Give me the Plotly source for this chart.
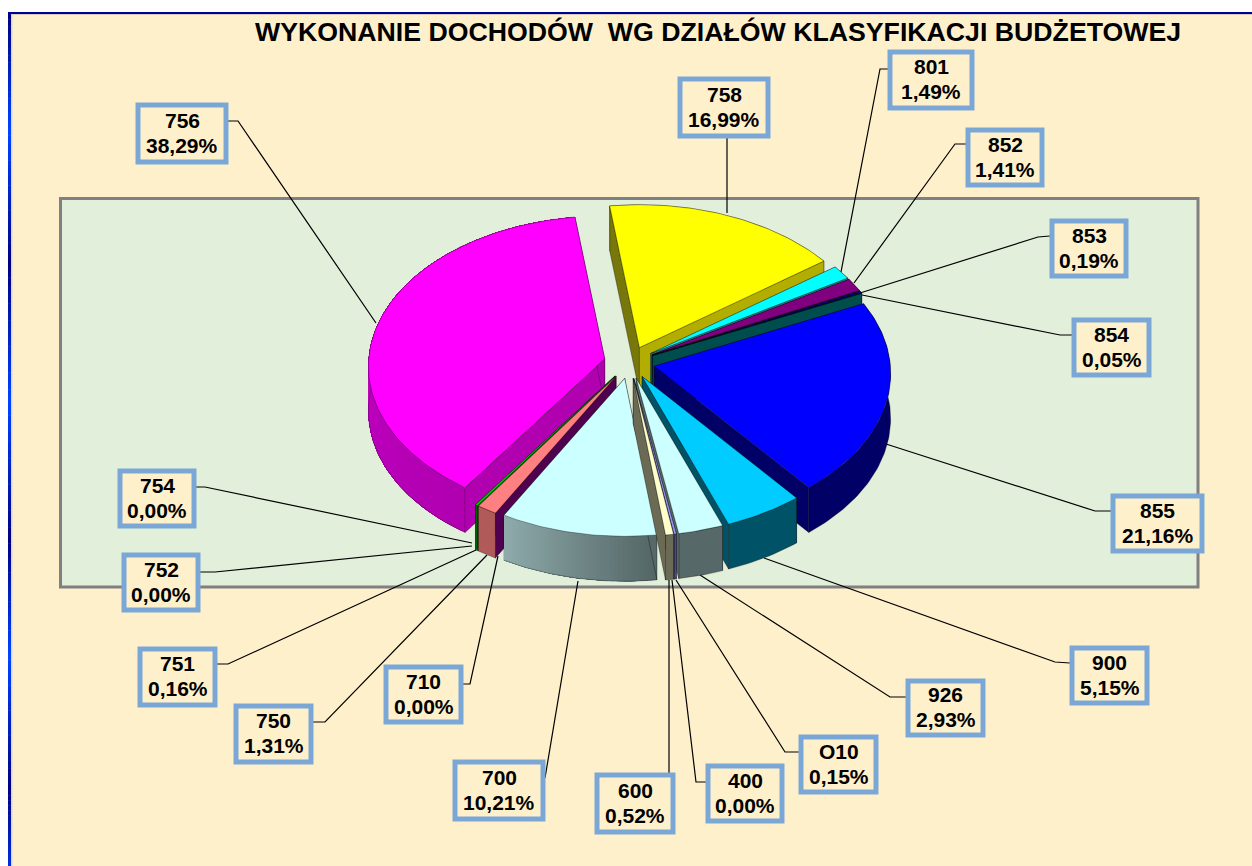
import numpy as np
import plotly.graph_objects as go

# ---- data ----
CATEGORIES = ["758", "801", "852", "853", "854", "855", "900", "926", "O10", "400",
              "600", "700", "710", "750", "751", "752", "754", "756"]
VALUES = [16.99, 1.49, 1.41, 0.19, 0.05, 21.16, 5.15, 2.93, 0.15, 0.00,
          0.52, 10.21, 0.00, 1.31, 0.16, 0.00, 0.00, 38.29]
TITLE = "WYKONANIE DOCHODÓW\u00a0\u00a0WG DZIAŁÓW KLASYFIKACJI BUDŻETOWEJ"

# ---- styles ----
TOP = ["#FFFF00", "#00FFFF", "#800080", "#000080", "#008080", "#0000FF", "#00CCFF", "#CCFFFF", "#9999FF", "#FFFFFF",
       "#FFFFCC", "#CCFFFF", "#660066", "#FF8080", "#00CC00", "#CCCCFF", "#00AA00", "#FF00FF"]
WALL_START = ["#77770A", "#2E8B8B", "#4D004D", "#00004D", "#004D4D", "#000066", "#005266", "#566868", "#4D4D80", "#666666",
              "#6B6B55", "#566868", "#4F004F", "#4F004F", "#006600", "#666666", "#006600", "#B000B0"]
WALL_END = ["#B3AD00", "#2E8B8B", "#4D004D", "#00004D", "#004D4D", "#000066", "#005266", "#566868", "#4D4D80", "#666666",
            "#6B6B55", "#566868", "#4F004F", "#B05A5A", "#006600", "#666666", "#006600", "#B000B0"]
RIM_A = ["#B3AD00", "#2E8B8B", "#4D004D", "#00004D", "#004D4D", "#000066", "#005266", "#566868", "#4D4D80", "#666666",
         "#6B6B55", "#546666", "#4F004F", "#B05A5A", "#006600", "#666666", "#006600", "#B000B0"]
RIM_B = ["#B3AD00", "#2E8B8B", "#4D004D", "#00004D", "#004D4D", "#000066", "#005266", "#566868", "#4D4D80", "#666666",
         "#6B6B55", "#8EAAAA", "#4F004F", "#B05A5A", "#006600", "#666666", "#006600", "#D400D4"]

# geometry of the tilted pie (pixels)
W, H = 1252, 866
CX, CY = 629.5, 362.5
RX, RY = 236, 150
DEPTH = 45
EXPLODE = 0.108
PERSP = 0.05
START_DEG = -7.6

BOX_C = "#7BA7D6"
CREAM = "#FFF0CC"

# label boxes: category -> (x0, x1, y0, y1)
BOXES = {
    "758": (680, 768, 79, 136), "801": (890, 972, 52, 108), "852": (968, 1042, 130, 185),
    "853": (1052, 1126, 221, 276), "854": (1074, 1149, 320, 375), "855": (1113, 1202, 496, 551),
    "900": (1072, 1147, 648, 703), "926": (908, 983, 681, 735), "O10": (801, 876, 737, 792),
    "400": (708, 782, 766, 821), "600": (597, 673, 775, 832), "700": (455, 543, 762, 819),
    "710": (386, 461, 667, 722), "750": (236, 311, 706, 762), "751": (140, 215, 649, 705),
    "752": (124, 198, 555, 610), "754": (120, 194, 471, 526), "756": (138, 226, 105, 162),
}
# leader lines: category -> polyline
LEADERS = {
    "756": [(228, 121), (238, 121), (376, 323)],
    "758": [(727, 138), (727, 213)],
    "801": [(888, 69), (880, 69), (841, 272)],
    "852": [(966, 144), (955, 144), (854, 283)],
    "853": [(1050, 236), (1038, 237), (860, 293)],
    "854": [(1072, 335), (1060, 335), (862, 295)],
    "855": [(1111, 511), (1095, 511), (886, 444)],
    "900": [(1070, 663), (1055, 662), (764, 558)],
    "926": [(906, 697), (890, 697), (700, 575)],
    "O10": [(799, 752), (785, 752), (676, 580)],
    "400": [(706, 782), (696, 782), (672, 580)],
    "600": [(669, 775), (669, 580)],
    "700": [(545, 778), (578, 581)],
    "710": [(463, 684), (470, 684), (498, 556)],
    "750": [(313, 722), (325, 722), (487, 555)],
    "751": [(217, 664), (228, 664), (476, 550)],
    "752": [(200, 572), (215, 572), (472, 546)],
    "754": [(196, 487), (205, 487), (472, 543)],
}


def project(theta, ox, oy):
    u, v = np.sin(theta), np.cos(theta)
    s = 1 / (1 + PERSP * v)
    return ox + RX * u * s, oy - RY * v * s


def mix(c1, c2, t):
    a = [int(c1[i:i + 2], 16) for i in (1, 3, 5)]
    b = [int(c2[i:i + 2], 16) for i in (1, 3, 5)]
    return "#%02X%02X%02X" % tuple(round(p + (q - p) * t) for p, q in zip(a, b))


def poly(xs, ys, fill, line="rgba(0,0,0,0.55)", lw=0.6):
    return go.Scatter(x=list(xs), y=list(ys), mode="lines", fill="toself", fillcolor=fill,
                      line=dict(color=line, width=lw), hoverinfo="skip", showlegend=False)


def rim_traces(i, ax, ay, n):
    # each shaded piece runs to the end of the arc, so no seams show
    if RIM_A[i] == RIM_B[i]:
        return [poly(list(ax) + list(ax[::-1]) + [ax[0]],
                     list(ay) + list(ay[::-1] + DEPTH) + [ay[0]], RIM_A[i])]
    out = []
    for k in range(n - 1):
        c = mix(RIM_A[i], RIM_B[i], k / max(1, n - 2))
        out.append(poly(list(ax[k:]) + list(ax[k:][::-1]) + [ax[k]],
                        list(ay[k:]) + list(ay[k:][::-1] + DEPTH) + [ay[k]], c, line=c, lw=0))
    out.append(go.Scatter(x=list(ax), y=list(ay + DEPTH), mode="lines", hoverinfo="skip", showlegend=False,
                          line=dict(color="rgba(0,0,0,0.45)", width=0.6)))
    return out


fig = go.Figure()
cum = np.cumsum([0] + VALUES)
total = sum(VALUES)
slices = []
for i, val in enumerate(VALUES):
    if val <= 0:
        continue
    a0 = np.radians(START_DEG + cum[i] / total * 360)
    a1 = np.radians(START_DEG + cum[i + 1] / total * 360)
    mid = (a0 + a1) / 2
    ox = CX + EXPLODE * RX * np.sin(mid)
    oy = CY - EXPLODE * RY * np.cos(mid)
    slices.append((np.cos(mid), i, a0, a1, ox, oy, mid))

for _, i, a0, a1, ox, oy, mid in sorted(slices, key=lambda s: -s[0]):
    n = max(3, int(np.degrees(a1 - a0)) + 2)
    th = np.linspace(a0, a1, n)
    ax, ay = project(th, ox, oy)
    start_wall = poly([ox, ax[0], ax[0], ox, ox], [oy, ay[0], ay[0] + DEPTH, oy + DEPTH, oy], WALL_START[i])
    end_wall = poly([ox, ax[-1], ax[-1], ox, ox], [oy, ay[-1], ay[-1] + DEPTH, oy + DEPTH, oy], WALL_END[i])
    rim = rim_traces(i, ax, ay, n)
    if np.cos(mid) > 0:           # back slices: rim is hidden, walls on top of it
        stack = rim + [start_wall, end_wall]
    elif np.sin(mid) < 0:         # front left: the start wall faces the viewer
        stack = [end_wall] + rim + [start_wall]
    else:                         # front right: the end wall faces the viewer
        stack = [start_wall] + rim + [end_wall]
    for tr in stack:
        fig.add_trace(tr)
    # top face
    fig.add_trace(poly([ox] + list(ax) + [ox], [oy] + list(ay) + [oy], TOP[i]))

# ---- page furniture ----
shapes = [
    dict(type="rect", x0=11, x1=W, y0=14, y1=H, fillcolor=CREAM, line_width=0, layer="below"),
    dict(type="rect", x0=11, x1=12.5, y0=14, y1=H, fillcolor="#DAD4E0", line_width=0, layer="below"),
    dict(type="rect", x0=11, x1=W, y0=14, y1=15, fillcolor="#D8CDB8", line_width=0, layer="below"),
    dict(type="rect", x0=8, x1=W, y0=12, y1=14, fillcolor="#000099", line_width=0, layer="below"),
    dict(type="rect", x0=60.5, x1=1198, y0=198.5, y1=587, fillcolor="#E2EFDA",
         line=dict(color="#808080", width=3), layer="below"),
]
# left frame bar: bands of dark and bright blue
bar_stops = [(12, "#000080"), (127, "#0044FF"), (260, "#000080"), (398, "#0044FF"),
             (536, "#000080"), (652, "#0044FF"), (785, "#000080"), (866, "#0030DD")]
for (y0, c0), (y1, c1) in zip(bar_stops[:-1], bar_stops[1:]):
    steps = 16
    for s in range(steps):
        shapes.append(dict(type="rect", x0=8, x1=11, y0=y0 + (y1 - y0) * s / steps,
                           y1=y0 + (y1 - y0) * (s + 1) / steps + 0.5,
                           fillcolor=mix(c0, c1, s / steps), line_width=0, layer="below"))

for cat, pts in LEADERS.items():
    path = "M " + " L ".join(f"{x},{y}" for x, y in pts)
    shapes.append(dict(type="path", path=path, line=dict(color="#000000", width=1.2), layer="below"))

annotations = [dict(x=718, y=32, xref="x", yref="y", text=f"<b>{TITLE}</b>", showarrow=False,
                    xanchor="center", yanchor="middle",
                    font=dict(family="Liberation Sans", size=26.7, color="#000000"))]

for cat, val in zip(CATEGORIES, VALUES):
    x0, x1, y0, y1 = BOXES[cat]
    shapes.append(dict(type="rect", x0=x0, x1=x1, y0=y0, y1=y1, fillcolor=CREAM,
                       line=dict(color=BOX_C, width=5), layer="above"))
    mx, my = (x0 + x1) / 2, (y0 + y1) / 2 - 0.8
    pct = f"{val:.2f}".replace(".", ",") + "%"
    for txt, dy in ((cat, -12.5), (pct, 12.5)):
        annotations.append(dict(x=mx, y=my + dy, xref="x", yref="y", text=f"<b>{txt}</b>", showarrow=False,
                                xanchor="center", yanchor="middle",
                                font=dict(family="Liberation Sans", size=21, color="#000000")))

fig.update_layout(
    width=W, height=H, margin=dict(l=0, r=0, t=0, b=0),
    paper_bgcolor="#FFFFFF", plot_bgcolor="rgba(0,0,0,0)", showlegend=False,
    xaxis=dict(range=[0, W], visible=False, fixedrange=True),
    yaxis=dict(range=[H, 0], visible=False, fixedrange=True),
    shapes=shapes, annotations=annotations,
)
fig.write_html("out.html", config={"displayModeBar": False},
               post_script="document.body.style.margin='0';document.body.style.overflow='hidden';")
